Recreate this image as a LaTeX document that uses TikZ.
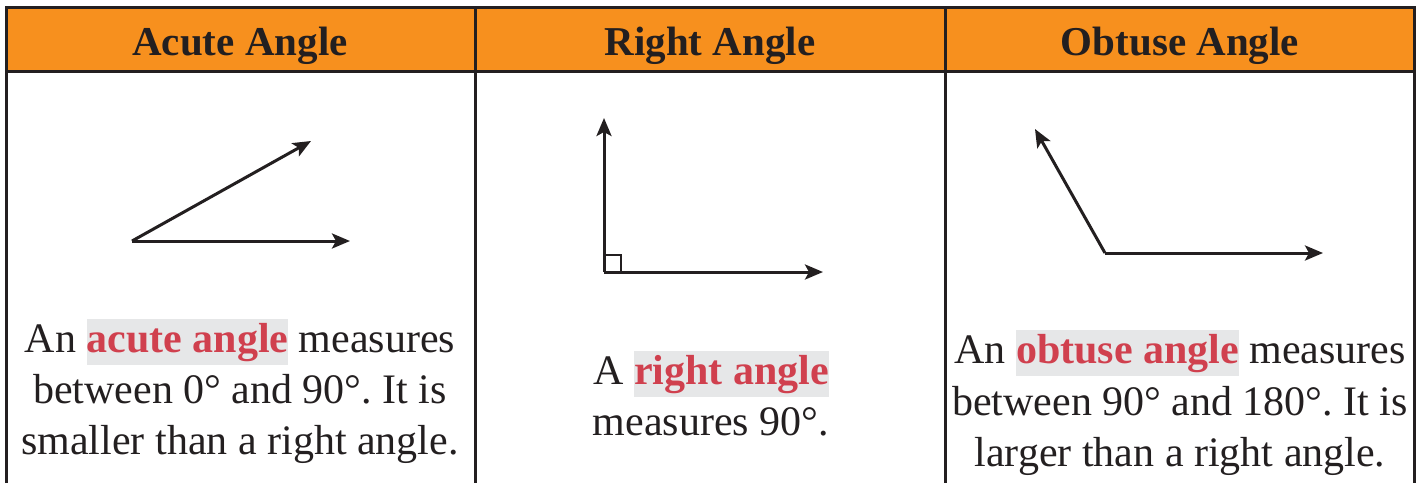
\documentclass[tikz,border=0pt]{standalone}
\usepackage{fontspec}
\setmainfont{Liberation Serif}
\usetikzlibrary{arrows.meta}
\definecolor{hdrorange}{RGB}{247,144,30}
\definecolor{ink}{RGB}{35,31,32}
\definecolor{hlred}{RGB}{208,64,78}
\definecolor{hlgrey}{RGB}{230,231,232}
\newcommand\hlword[1]{{\setlength{\fboxsep}{0pt}\colorbox{hlgrey}{\rule[-13pt]{0pt}{46pt}\textcolor{hlred}{\bfseries #1}}}}
\frenchspacing
\begin{document}
\begin{tikzpicture}[x=1pt,y=-1pt,
  frame/.style={ink, line width=3pt},
  ray/.style={ink, line width=3pt, -{Stealth[length=18pt,width=15pt,inset=4pt]}},
  head/.style={anchor=base, inner sep=0pt, font=\fontsize{41}{49}\selectfont\bfseries, text=ink},
  body/.style={anchor=base, inner sep=0pt, font=\fontsize{42}{51}\selectfont, text=ink},
]
\useasboundingbox (0,0) rectangle (1419,483);
% header band and frame
\fill[hdrorange] (6,7) rectangle (1414,71);
\draw[frame] (6,483) -- (6,7) -- (1414,7) -- (1414,483);
\draw[frame] (6,71) -- (1414,71);
\draw[frame] (475,7) -- (475,483);
\draw[frame] (945,7) -- (945,483);
% headers
\node[head] (h1) at (240,55) {Acute Angle};
\node[head] (h2) at (710,55) {Right Angle};
\node[head] (h3) at (1180,55) {Obtuse Angle};
% acute angle
\coordinate (av) at (132,241);
\coordinate (au) at (311,141);
\coordinate (ar) at (350,241);
\draw[ray] (av) -- (au);
\draw[ray] (av) -- (ar);
% right angle
\coordinate (rv) at (604,272);
\coordinate (ru) at (604,118);
\coordinate (rr) at (823,272);
\draw[ray] (rv) -- (ru);
\draw[ray] (rv) -- (rr);
\draw[ink, line width=2.4pt] (604,255) -- (621,255) -- (621,272);
% obtuse angle
\coordinate (ov) at (1105,253);
\coordinate (ou) at (1035,129);
\coordinate (or) at (1323,253);
\draw[ray] (ov) -- (ou);
\draw[ray] (ov) -- (or);
% texts
\node[body] (a1) at (240,352) {An \hlword{acute angle} measures};
\node[body] (a2) at (240,403) {between 0° and 90°. It is};
\node[body] (a3) at (240,454) {smaller than a right angle.};
\node[body] (r1) at (711,384) {A \hlword{right angle}};
\node[body] (r2) at (711,435) {measures 90°.};
\node[body] (o1) at (1180,363) {An \hlword{obtuse angle} measures};
\node[body] (o2) at (1180,415) {between 90° and 180°. It is};
\node[body] (o3) at (1180,466) {larger than a right angle.};
\end{tikzpicture}
\end{document}
